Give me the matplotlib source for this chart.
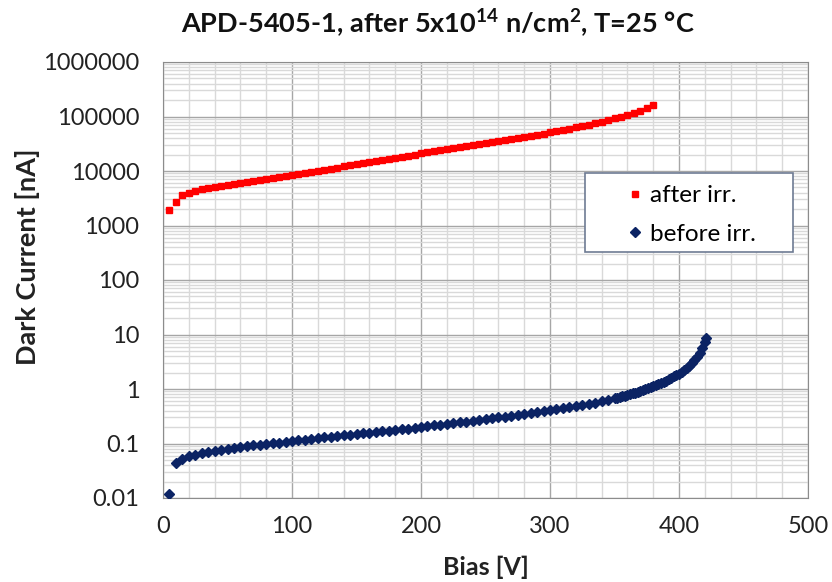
import numpy as np
import matplotlib.pyplot as plt
from matplotlib.patches import Rectangle
from matplotlib.ticker import MultipleLocator, LogLocator, FixedLocator, NullFormatter

plt.rcParams['font.family'] = ['Lato', 'DejaVu Sans']
plt.rcParams['mathtext.fontset'] = 'custom'
plt.rcParams['mathtext.rm'] = 'Lato'
plt.rcParams['mathtext.bf'] = 'Lato:bold'

# after irradiation, 5 V steps
bias_after = list(range(5, 385, 5))
current_after = [1900, 2700, 3600, 4000, 4350, 4650, 4900, 5150, 5400, 5650,
                 5850, 6050, 6300, 6550, 6800, 7100, 7400, 7700, 8000, 8400,
                 8800, 9200, 9650, 10100, 10550, 11050, 11550, 12100, 12650, 13250,
                 13850, 14500, 15200, 15900, 16650, 17400, 18200, 19100, 20000, 21000,
                 21900, 22900, 23900, 25000, 26200, 27400, 28600, 29900, 31300, 32700,
                 34200, 35700, 37300, 39000, 40800, 42600, 44500, 46500, 48700, 51000,
                 53800, 56800, 59800, 63000, 66500, 70500, 75000, 80000, 86000, 92000,
                 99000, 107000, 117000, 128000, 142000, 160000]

# before irradiation, 5 V steps up to 345 V, then 2 V steps
bias_before = list(range(5, 350, 5)) + list(range(350, 422, 2)) + [421]
current_before = [0.012, 0.044, 0.052, 0.058, 0.062, 0.066, 0.070, 0.074, 0.077, 0.080,
                  0.083, 0.086, 0.089, 0.092, 0.095, 0.098, 0.101, 0.104, 0.108, 0.112,
                  0.115, 0.118, 0.122, 0.125, 0.129, 0.133, 0.137, 0.141, 0.145, 0.149,
                  0.153, 0.158, 0.162, 0.167, 0.172, 0.177, 0.183, 0.188, 0.194, 0.200,
                  0.207, 0.214, 0.221, 0.229, 0.237, 0.245, 0.253, 0.262, 0.271, 0.280,
                  0.290, 0.300, 0.312, 0.325, 0.338, 0.352, 0.366, 0.381, 0.397, 0.413,
                  0.430, 0.448, 0.467, 0.487, 0.508, 0.535, 0.565, 0.598, 0.635,
                  0.67, 0.69, 0.71, 0.73, 0.75, 0.78, 0.80, 0.83, 0.86, 0.89,
                  0.92, 0.96, 0.99, 1.03, 1.08, 1.12, 1.17, 1.23, 1.29, 1.36,
                  1.43, 1.51, 1.60, 1.70, 1.80, 1.92, 2.06, 2.22, 2.42, 2.66,
                  2.96, 3.35, 3.85, 4.6, 5.7, 7.4, 8.6]

y_ticks = [0.01, 0.1, 1, 10, 100, 1000, 10000, 100000, 1000000]
y_labels = ['0.01', '0.1', '1', '10', '100', '1000', '10000', '100000', '1000000']

W, H = 832, 582
fig = plt.figure(figsize=(W / 100, H / 100), dpi=100)
ax = fig.add_axes([163 / W, 1 - 498 / H, (808 - 163) / W, (498 - 62) / H])

ax.plot(bias_after, current_after, ls='none', marker='s', ms=5, color='#ff0000',
        mec='#ff0000', label='after irr.', zorder=3)
ax.plot(bias_before, current_before, ls='none', marker='D', ms=5, color='#0b2364',
        mec='#0b2364', label='before irr.', zorder=3)

ax.set_yscale('log')
ax.set_xlim(0, 500)
ax.set_ylim(0.01, 1000000)
ax.xaxis.set_major_locator(MultipleLocator(100))
ax.xaxis.set_minor_locator(MultipleLocator(20))
ax.yaxis.set_major_locator(FixedLocator(y_ticks))
ax.set_yticklabels(y_labels)
ax.yaxis.set_minor_locator(LogLocator(base=10, subs=np.arange(2, 10), numticks=20))
ax.yaxis.set_minor_formatter(NullFormatter())

ax.grid(which='major', color='#a6a6a6', lw=1.0)
ax.grid(which='minor', color='#d9d9d9', lw=1.0)
ax.set_axisbelow(True)
ax.tick_params(which='both', length=0, labelsize=17, colors='#222222')
ax.tick_params(axis='y', pad=17)
ax.tick_params(axis='x', pad=13)
for s in ax.spines.values():
    s.set_color('#8c8c8c')

fig.text(438 / W, 1 - 32 / H,
         r'APD-5405-1, after 5x10$^{\mathbf{14}}$ n/cm$^{\mathbf{2}}$, T=25 °C',
         fontsize=19.5, fontweight='bold', ha='center', va='baseline', color='#111111')
fig.text(486 / W, 1 - 575 / H, 'Bias [V]', fontsize=18, fontweight='bold',
         ha='center', va='baseline', color='#222222')
fig.text(27 / W, 1 - 257 / H, 'Dark Current [nA]', fontsize=19.5, fontweight='bold',
         ha='center', va='center', rotation=90, color='#222222')

# legend box
ax.add_patch(Rectangle((585 / W, 1 - 252 / H), (793 - 585) / W, (252 - 173) / H,
                       transform=fig.transFigure, facecolor='white', clip_on=False,
                       edgecolor='#6e7b94', lw=1.2, zorder=4))
leg = ax.legend(loc='upper left', bbox_to_anchor=(625 / W, 1 - 185 / H),
                bbox_transform=fig.transFigure, fontsize=17.5, frameon=False,
                borderpad=0, borderaxespad=0, labelspacing=0.72,
                handlelength=0.8, handletextpad=0.22)
leg.set_zorder(5)

fig.savefig('out.png', dpi=100)
